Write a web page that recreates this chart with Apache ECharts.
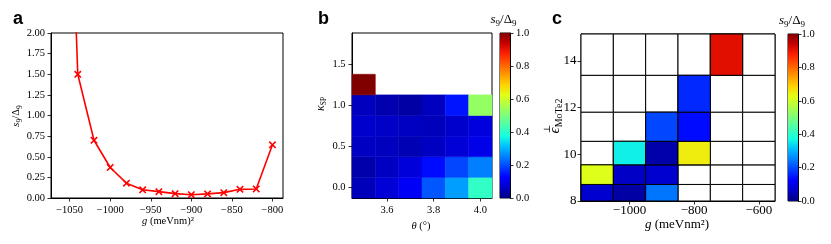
<!DOCTYPE html>
<html><head><meta charset="utf-8">
<script src="https://cdn.jsdelivr.net/npm/echarts@6/dist/echarts.min.js"></script>
<style>html,body{margin:0;padding:0;background:#fff}#c{width:831px;height:244px}</style>
</head><body><div id="c"></div>
<script>
// ---------- Panel a data ----------
const aG = [-1060, -1040, -1020, -1000, -980, -960, -940, -920, -900, -880, -860, -840, -820, -800];
const aS = [7.0, 1.50, 0.70, 0.37, 0.18, 0.10, 0.077, 0.053, 0.04, 0.05, 0.065, 0.105, 0.11, 0.645];
const aXTicks = [-1050, -1000, -950, -900, -850, -800];
const aYTicks = [0, 0.25, 0.5, 0.75, 1.0, 1.25, 1.5, 1.75, 2.0];

// ---------- Panel b data ----------
const bTheta = [3.5, 3.6, 3.7, 3.8, 3.9, 4.0];
const bKappa = [0, 0.25, 0.5, 0.75, 1.0, 1.25];
const bValues = [
  [0.05, 0.08, 0.115, 0.21, 0.28, 0.41],
  [0.037, 0.058, 0.084, 0.135, 0.194, 0.25],
  [0.058, 0.054, 0.045, 0.058, 0.08, 0.10],
  [0.067, 0.062, 0.058, 0.05, 0.067, 0.088],
  [0.054, 0.041, 0.032, 0.055, 0.145, 0.53],
  [1.0, null, null, null, null, null]
];
const bXTicks = [3.6, 3.8, 4.0];
const bYTicks = [0, 0.5, 1.0, 1.5];

// ---------- Panel c data ----------
const cG = [-1100, -1000, -900, -800, -700, -600];
const cEpsEdges = [8.0, 8.71, 9.55, 10.56, 11.81, 13.39, 15.16];
const cValues = [
  [0.071, 0.032, 0.24, null, null, null],
  [0.62, 0.062, 0.071, null, null, null],
  [null, 0.36, 0.037, 0.65, null, null],
  [null, null, 0.194, 0.135, null, null],
  [null, null, null, 0.164, null, null],
  [null, null, null, null, 0.91, null]
];
const cXTicks = [-1000, -800, -600];
const cYTicks = [8, 10, 12, 14];

// ---------- Colorbar ----------
const cbRange = [0, 1];
const cbTicks = [0, 0.2, 0.4, 0.6, 0.8, 1.0];

// jet colormap stops (style)
const jetStops = ['#000080', '#0000c8', '#0000ff', '#0040ff', '#0080ff', '#00bfff', '#15ffe2', '#48ffaf',
  '#7bff7b', '#afff48', '#e2ff15', '#ffd200', '#ff9700', '#ff5c00', '#ff2100', '#c80000', '#800000'];

const SERIF = '"Liberation Serif", "DejaVu Serif", serif';
const SANS = '"Liberation Sans", Arial, sans-serif';
const minusFmt = v => (v < 0 ? '\u2212' : '') + Math.abs(v);

function axis(gridIndex, min, max, ticks, fontSize, margin, fmt, extra) {
  return Object.assign({
    type: 'value', gridIndex, min, max,
    axisLine: {show: true, onZero: false, lineStyle: {color: '#000', width: 1}},
    axisTick: {show: true, length: 3.5, lineStyle: {color: '#000', width: 0.8}, customValues: ticks},
    axisLabel: {color: '#000', fontFamily: SERIF, fontSize, margin, customValues: ticks, formatter: fmt},
    splitLine: {show: false}
  }, extra || {});
}
function hiddenAxis(gridIndex) {
  return {type: 'value', gridIndex, min: 0, max: 1, show: false, splitLine: {show: false}};
}
function gridBox(left, top, width, height) {
  return {left, top, width, height, show: true, borderColor: '#000', borderWidth: 1,
          containLabel: false, outerBoundsMode: 'none', backgroundColor: 'transparent'};
}

const bHalfW = 0.05, bHalfH = 0.125, cHalfW = 50;

const bData = [];
bKappa.forEach((k, i) => bTheta.forEach((t, j) => {
  if (bValues[i][j] !== null) bData.push([t, k, bValues[i][j]]);
}));
const cAll = [], cData = [];
cEpsEdges.slice(0, -1).forEach((e, i) => cG.forEach((g, j) => {
  cAll.push([g, i]);
  if (cValues[i][j] !== null) cData.push([g, i, cValues[i][j]]);
}));

function cellRect(x0, y0, x1, y1, api) {
  const p0 = api.coord([x0, y0]), p1 = api.coord([x1, y1]);
  return {x: Math.min(p0[0], p1[0]), y: Math.min(p0[1], p1[1]),
          width: Math.abs(p1[0] - p0[0]), height: Math.abs(p1[1] - p0[1])};
}
function colorbarItem(params, api) {
  const shape = cellRect(0, api.value(0), 1, api.value(1), api);
  return {type: 'rect', shape, style: {fill: new echarts.graphic.LinearGradient(0, 1, 0, 0,
    jetStops.map((c, i) => ({offset: i / (jetStops.length - 1), color: c})))}};
}

const xMark = 'path://M0,1.5L1.5,0L5,3.5L8.5,0L10,1.5L6.5,5L10,8.5L8.5,10L5,6.5L1.5,10L0,8.5L3.5,5Z';

const subSmall = {fontFamily: SERIF, fontSize: 7.5, padding: [7, 0, 0, 0]};
const subMid = {fontFamily: SERIF, fontSize: 9, padding: [8, 0, 0, 0]};
const it = size => ({fontFamily: SERIF, fontSize: size, fontStyle: 'italic'});
const rm = size => ({fontFamily: SERIF, fontSize: size});

function label(x, y, text, rich, base, rot) {
  return {type: 'text', x, y, rotation: rot || 0,
    style: {text, rich, font: base, fill: '#000', align: 'center', verticalAlign: 'middle',
            textAlign: 'center', textVerticalAlign: 'middle'}};
}

const option = {
  animation: false,
  backgroundColor: '#fff',
  grid: [
    gridBox(51, 33, 232, 165),
    gridBox(352, 33, 140, 165),
    gridBox(500, 33, 10, 165),
    gridBox(581, 34, 194, 167),
    gridBox(788, 34, 10, 167)
  ],
  xAxis: [
    axis(0, -1073, -787, aXTicks, 10.5, 7, minusFmt),
    axis(1, 3.45, 4.05, bXTicks, 10.5, 7, v => v.toFixed(1)),
    hiddenAxis(2),
    axis(3, -1150, -550, cXTicks, 13, 3, minusFmt),
    hiddenAxis(4)
  ],
  yAxis: [
    axis(0, 0, 2, aYTicks, 10.5, 6, v => v.toFixed(2)),
    axis(1, -0.125, 1.875, bYTicks, 10.5, 6.5, v => v.toFixed(1)),
    axis(2, cbRange[0], cbRange[1], cbTicks, 10.5, 6, v => v.toFixed(1), {position: 'right'}),
    axis(3, 8, 15.16, cYTicks, 13, 4.5, v => String(v)),
    axis(4, cbRange[0], cbRange[1], cbTicks, 10.5, 3.5, v => v.toFixed(1), {position: 'right'})
  ],
  visualMap: {
    type: 'continuous', show: false, min: 0, max: 1, dimension: 2,
    seriesIndex: [1, 4], inRange: {color: jetStops}
  },
  series: [
    {type: 'line', xAxisIndex: 0, yAxisIndex: 0, data: aG.map((g, i) => [g, aS[i]]),
     symbol: xMark, symbolSize: 7.5, clip: true,
     itemStyle: {color: '#ff0000'}, lineStyle: {color: '#ff0000', width: 1.6}},
    {type: 'custom', xAxisIndex: 1, yAxisIndex: 1, data: bData,
     renderItem: (params, api) => {
       const t = api.value(0), k = api.value(1), col = api.visual('color');
       return {type: 'rect', shape: cellRect(t - bHalfW, k - bHalfH, t + bHalfW, k + bHalfH, api),
               style: {fill: col, stroke: col, lineWidth: 0.5}};
     }},
    {type: 'custom', xAxisIndex: 2, yAxisIndex: 2, data: [cbRange], renderItem: colorbarItem},
    {type: 'custom', xAxisIndex: 3, yAxisIndex: 3, data: cAll,
     renderItem: (params, api) => {
       const g = api.value(0), i = api.value(1);
       return {type: 'rect', shape: cellRect(g - cHalfW, cEpsEdges[i], g + cHalfW, cEpsEdges[i + 1], api),
               style: {fill: '#fff', stroke: '#000', lineWidth: 1}};
     }},
    {type: 'custom', xAxisIndex: 3, yAxisIndex: 3, data: cData,
     renderItem: (params, api) => {
       const g = api.value(0), i = api.value(1), col = api.visual('color');
       return {type: 'rect', shape: cellRect(g - cHalfW, cEpsEdges[i], g + cHalfW, cEpsEdges[i + 1], api),
               style: {fill: col, stroke: '#000', lineWidth: 1}};
     }},
    {type: 'custom', xAxisIndex: 4, yAxisIndex: 4, data: [cbRange], renderItem: colorbarItem}
  ],
  graphic: [
    {type: 'text', x: 13, y: 19, style: {text: 'a', font: 'bold 18px ' + SANS, fill: '#000', verticalAlign: 'middle', textVerticalAlign: 'middle'}},
    {type: 'text', x: 318, y: 19, style: {text: 'b', font: 'bold 18px ' + SANS, fill: '#000', verticalAlign: 'middle', textVerticalAlign: 'middle'}},
    {type: 'text', x: 552, y: 19, style: {text: 'c', font: 'bold 18px ' + SANS, fill: '#000', verticalAlign: 'middle', textVerticalAlign: 'middle'}},
    // panel a titles
    label(16.5, 116, '{i|s}{s|9}{r|/Δ}{s|9}', {i: it(10.5), r: rm(10.5), s: subSmall}, '10.5px ' + SERIF, Math.PI / 2),
    label(168, 221, '{i|g}{r| (meVnm)²}', {i: it(10.5), r: rm(10.5)}, '10.5px ' + SERIF),
    // panel b titles
    label(421, 226, '{i|θ}{r| (°)}', {i: it(10.5), r: rm(10.5)}, '10.5px ' + SERIF),
    label(321, 104, '{i|κ}{s|SP}', {i: it(12), s: subSmall}, '12px ' + SERIF, Math.PI / 2),
    label(503.5, 20, '{i|s}{s|9}{r|/Δ}{s|9}', {i: it(13), r: rm(13), s: subMid}, '13px ' + SERIF),
    // panel c titles
    label(677, 225, '{i|g}{r| (meVnm²)}', {i: it(13), r: rm(13)}, '13px ' + SERIF),
    label(792, 21, '{i|s}{s|9}{r|/Δ}{s|9}', {i: it(13), r: rm(13), s: subMid}, '13px ' + SERIF),
    label(555, 116, '{e|ϵ}{s|MoTe2}', {e: it(15), s: {fontFamily: SERIF, fontSize: 10, padding: [9, 0, 0, 0]}}, '15px ' + SERIF, Math.PI / 2),
    label(547.5, 129, '⊥', null, '9px ' + SERIF, Math.PI / 2)
  ]
};

const chart = echarts.init(document.getElementById('c'), null, {renderer: 'canvas'});
chart.setOption(option);
</script>
</body></html>
